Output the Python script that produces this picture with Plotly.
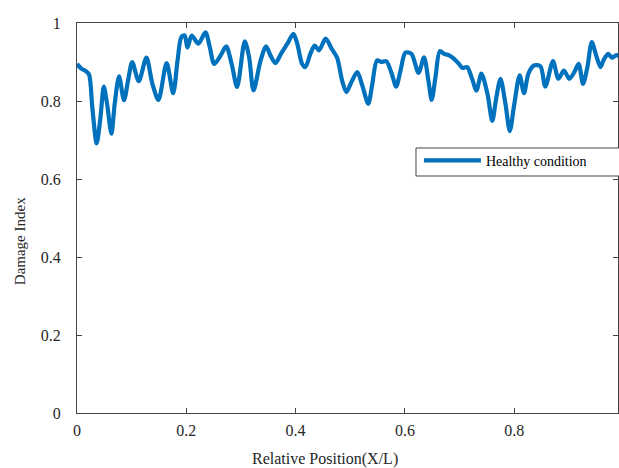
import plotly.graph_objects as go

# Damage index along the beam (healthy condition)
position = [
    0.000, 0.008, 0.016, 0.022, 0.028, 0.036, 0.043, 0.049, 0.055, 0.063,
    0.069, 0.077, 0.086, 0.094, 0.101, 0.113, 0.127, 0.138, 0.149, 0.164,
    0.176, 0.184, 0.191, 0.197, 0.202, 0.210, 0.222, 0.235, 0.243, 0.251,
    0.263, 0.273, 0.283, 0.293, 0.307, 0.315, 0.323, 0.336, 0.346, 0.354,
    0.363, 0.374, 0.385, 0.396, 0.403, 0.412, 0.418, 0.427, 0.435, 0.443,
    0.455, 0.466, 0.476, 0.485, 0.493, 0.502, 0.513, 0.522, 0.533, 0.540,
    0.549, 0.557, 0.566, 0.576, 0.584, 0.592, 0.601, 0.612, 0.625, 0.635,
    0.643, 0.649, 0.656, 0.664, 0.672, 0.681, 0.690, 0.699, 0.705, 0.714,
    0.723, 0.731, 0.740, 0.751, 0.760, 0.767, 0.775, 0.784, 0.792, 0.800,
    0.810, 0.818, 0.826, 0.836, 0.848, 0.857, 0.871, 0.881, 0.891, 0.901,
    0.910, 0.918, 0.926, 0.934, 0.942, 0.950, 0.958, 0.964, 0.972, 0.979,
    0.987, 0.992,
]
damage_index = [
    0.895, 0.883, 0.877, 0.868, 0.784, 0.691, 0.759, 0.837, 0.793, 0.716,
    0.793, 0.863, 0.802, 0.857, 0.900, 0.851, 0.911, 0.844, 0.803, 0.897,
    0.820, 0.904, 0.964, 0.968, 0.937, 0.968, 0.947, 0.976, 0.938, 0.895,
    0.917, 0.940, 0.895, 0.836, 0.953, 0.912, 0.827, 0.904, 0.940, 0.917,
    0.897, 0.923, 0.947, 0.972, 0.947, 0.895, 0.887, 0.921, 0.942, 0.930,
    0.960, 0.934, 0.911, 0.853, 0.823, 0.848, 0.874, 0.840, 0.793, 0.840,
    0.904, 0.900, 0.902, 0.870, 0.837, 0.878, 0.924, 0.921, 0.872, 0.912,
    0.853, 0.803, 0.861, 0.928, 0.921, 0.917, 0.908, 0.895, 0.885, 0.887,
    0.857, 0.827, 0.870, 0.819, 0.749, 0.806, 0.857, 0.793, 0.723, 0.790,
    0.866, 0.820, 0.870, 0.891, 0.889, 0.837, 0.902, 0.857, 0.878, 0.857,
    0.874, 0.895, 0.844, 0.887, 0.951, 0.917, 0.887, 0.906, 0.921, 0.911,
    0.918, 0.915,
]

x_ticks = [0, 0.2, 0.4, 0.6, 0.8]
x_tick_labels = ["0", "0.2", "0.4", "0.6", "0.8"]
y_ticks = [0, 0.2, 0.4, 0.6, 0.8, 1.0]
y_tick_labels = ["0", "0.2", "0.4", "0.6", "0.8", "1"]

serif = "Liberation Serif, Times New Roman, serif"
ink = "#262626"
frame = "#444444"

fig = go.Figure()
fig.add_trace(go.Scatter(
    x=position, y=damage_index, mode="lines", name="Healthy condition",
    line=dict(color="#0072BD", width=4.2, shape="spline", smoothing=0.8),
))

axis_common = dict(
    showgrid=False, zeroline=False, showline=True, linecolor=frame,
    linewidth=1, mirror="allticks", ticks="inside", ticklen=5,
    tickcolor=frame, tickfont=dict(family=serif, size=16, color=ink),
)

fig.update_layout(
    width=619, height=468,
    margin=dict(l=77, r=1, t=23, b=55),
    plot_bgcolor="white", paper_bgcolor="white",
    xaxis=dict(range=[0, 0.99], tickvals=x_ticks, ticktext=x_tick_labels,
               ticklabelstandoff=3, **axis_common),
    yaxis=dict(range=[0, 1], tickvals=y_ticks, ticktext=y_tick_labels,
               ticklabelstandoff=12, **axis_common),
    showlegend=True,
    legend=dict(
        x=0.632, y=0.688, xanchor="left", yanchor="top",
        bgcolor="rgba(0,0,0,0)", borderwidth=0,
        font=dict(family=serif, size=14, color="black"),
        itemwidth=57, tracegroupgap=0,
    ),
)

# legend frame running out to the right edge of the figure
fig.add_shape(
    type="rect", xref="paper", yref="paper",
    x0=0.6266, x1=1.02, y0=0.6077, y1=0.6795,
    line=dict(color=frame, width=1), fillcolor="white", layer="above",
)

# axis titles
fig.add_annotation(
    text="Relative Position(X/L)", xref="paper", yref="paper",
    x=0.458, y=-0.118, xanchor="center", yanchor="middle", showarrow=False,
    font=dict(family=serif, size=16, color=ink),
)
fig.add_annotation(
    text="Damage Index", xref="paper", yref="paper",
    x=-0.105, y=0.441, xanchor="center", yanchor="middle", showarrow=False,
    textangle=-90, font=dict(family=serif, size=15, color=ink),
)

fig.write_html("out.html")
